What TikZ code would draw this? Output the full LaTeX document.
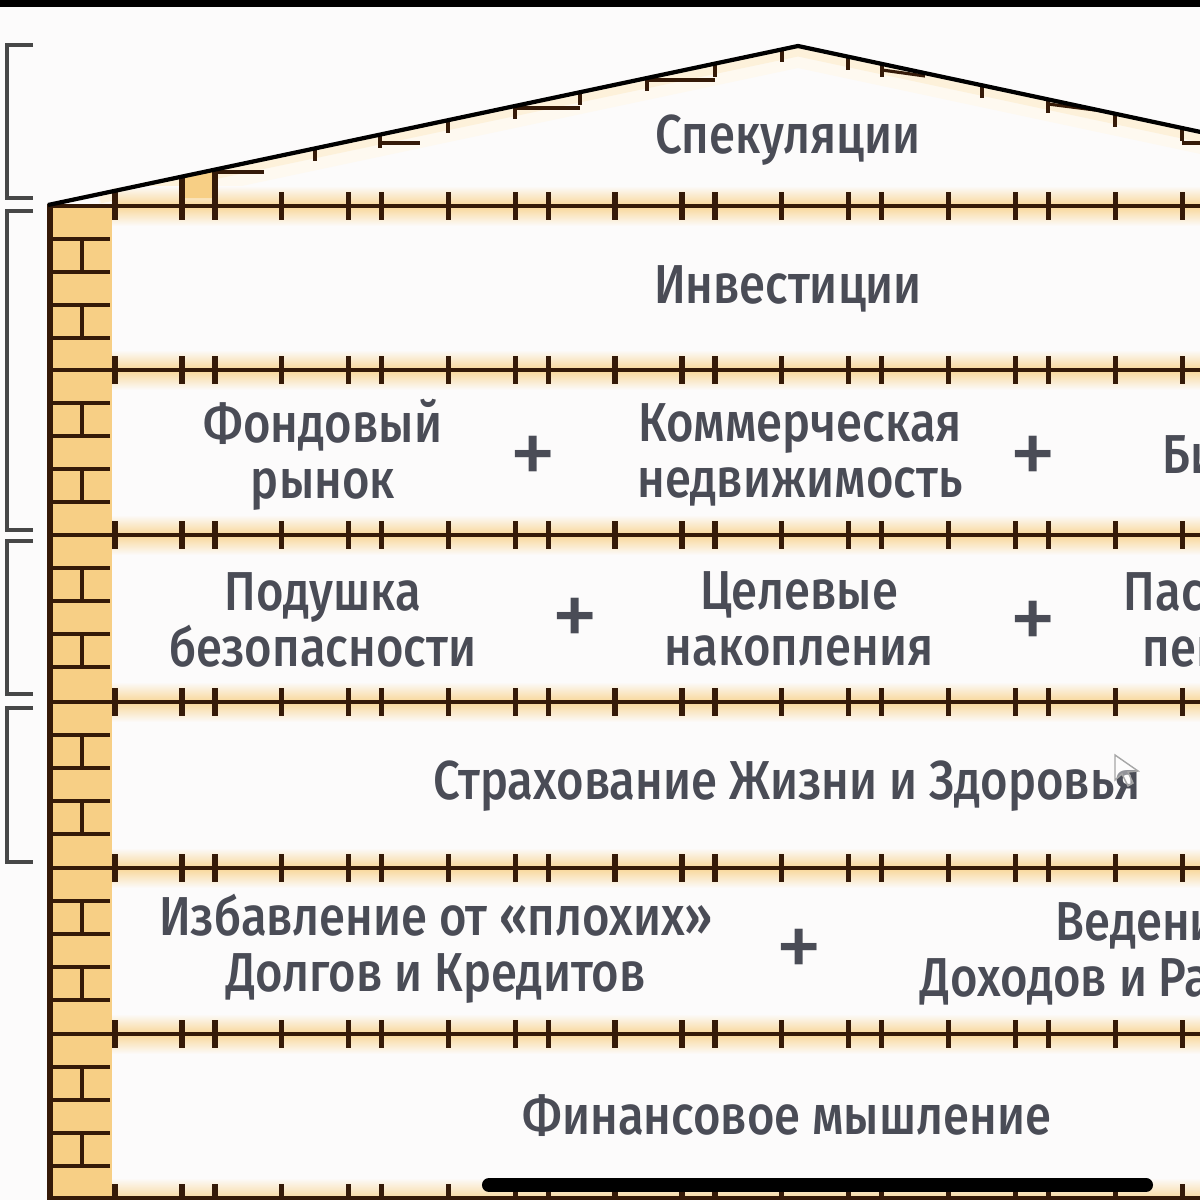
\documentclass[tikz,border=0pt]{standalone}
\usepackage{fontspec}
\setmainfont[FakeStretch=0.86]{Fira Sans Medium}
\newfontfamily\plusfont{Fira Sans}
\definecolor{brick}{HTML}{F7CF85}
\definecolor{beamline}{HTML}{351A08}
\definecolor{inktext}{HTML}{4A4C56}
\definecolor{paper}{HTML}{FCFBFB}
\tikzset{
  label/.style={font=\fontsize{15.6pt}{15.8pt}\selectfont, text=inktext, align=center, inner sep=0pt},
  plus/.style={font=\plusfont\fontsize{27pt}{27pt}\selectfont, text=inktext, inner sep=0pt},
  beam/.style={draw=beamline, line width=1.4pt},
  peg/.style={draw=beamline, line width=1.5pt},
  mortar/.style={draw=beamline, line width=1.1pt},
  rafter/.style={draw=beamline, line width=1.3pt},
  bracketline/.style={draw=black!72, line width=1.1pt},
}
\begin{document}
\begin{tikzpicture}[x=0.01cm,y=-0.01cm]
  \useasboundingbox (0,0) rectangle (1200,1200);
  \clip (0,0) rectangle (1200,1200);
  \fill[paper] (0,0) rectangle (1200,1200);
  \fill[black] (0,0) rectangle (1200,7);
  % roof glow
  \draw[brick!12,line width=5pt] (100,207) -- (798,59) -- (1210,147);
  \draw[brick!30,line width=2.5pt] (100,199) -- (798,52) -- (1210,140);
  % wall
  \fill[brick] (48,206) rectangle (112,1200);
  \draw[mortar,line width=1.5pt] (50,204) -- (50,1200);
  \foreach \f in {206,370,535,702,868,1034}{
    \fill[top color=paper,bottom color=brick!85] (112,\f-20) rectangle (1200,\f);
    \fill[top color=brick!85,bottom color=paper] (112,\f) rectangle (1200,\f+20);
    \draw[beam] (50,\f) -- (1200,\f);
    \foreach \d in {33,66,99,132}
      \draw[mortar] (50,\f+\d) -- (110,\f+\d);
    \draw[mortar] (82,\f+33) -- (82,\f+66);
    \draw[mortar] (82,\f+99) -- (82,\f+132);
  }
  \fill[top color=paper,bottom color=brick!85] (112,1178) rectangle (1200,1200);
  \draw[beam] (50,1198) -- (1200,1198);
  % pegs
  \foreach \f in {206,370,535,702,868,1034,1198}
    \foreach \k in {0,...,7}{
      \draw[peg] (115+166.7*\k,\f-14) -- (115+166.7*\k,\f+14);
      \draw[peg] (182+166.7*\k,\f-14) -- (182+166.7*\k,\f+14);
      \draw[peg] (215+166.7*\k,\f-14) -- (215+166.7*\k,\f+14);
    }
  % roof
  \fill[brick] (182,178) -- (215,171) -- (215,198) -- (182,198) -- cycle;
  \draw[peg] (182,178) -- (182,206);
  \draw[peg] (215,171) -- (215,206);
  \foreach \x in {115,315,380,448,515,580,647,715,782}
    \draw[rafter] (\x,{205-0.212*(\x-48)}) -- ++(0,13);
  \foreach \x in {848,882,982,1048,1115,1182}
    \draw[rafter] (\x,{46+0.214*(\x-798)}) -- ++(0,13);
  \draw[rafter,line width=0.9pt] (215,172) -- (264,172);
  \draw[rafter,line width=0.9pt] (380,143) -- (420,143);
  \draw[rafter,line width=0.9pt] (515,108) -- (580,108);
  \draw[rafter,line width=0.9pt] (647,80) -- (715,80);
  \draw[rafter,line width=0.9pt] (882,70) -- (925,76);
  \draw[rafter,line width=0.9pt] (1048,104) -- (1095,110);
  \draw[rafter,line width=0.9pt] (1182,143) -- (1200,143);
  \draw[black,line width=1.2pt,line join=round] (48,205) -- (798,46) -- (1210,134);
  % brackets
  \draw[bracketline] (33,45) -- (7,45) -- (7,198) -- (33,198);
  \draw[bracketline] (33,211) -- (7,211) -- (7,530) -- (33,530);
  \draw[bracketline] (33,541) -- (7,541) -- (7,694) -- (33,694);
  \draw[bracketline] (33,708) -- (7,708) -- (7,862) -- (33,862);
  % floors
  \node[label] (speculation) at (788,140) {Спекуляции};
  \node[label] (investments) at (788,289) {Инвестиции};
  \node[label] (stocks) at (323,455) {Фондовый\\рынок};
  \node[plus] (plusa) at (533,461) {+};
  \node[label] (realty) at (800,455) {Коммерческая\\недвижимость};
  \node[plus] (plusb) at (1033,461) {+};
  \node[label,anchor=west] (business) at (1162,455) {Бизнес};
  \node[label] (cushion) at (323,620) {Подушка\\безопасности};
  \node[plus] (plusc) at (575,623) {+};
  \node[label] (savings) at (799,619) {Целевые\\накопления};
  \node[plus] (plusd) at (1033,626) {+};
  \node[label,anchor=west,align=left] (pension) at (1123,620) {Пассивная\\\hspace*{0.19cm}пенсия};
  \node[label] (insurance) at (787,786) {Страхование Жизни и Здоровья};
  \node[label] (debts) at (436,949) {Избавление от «плохих»\\Долгов и Кредитов};
  \node[plus] (pluse) at (799,954) {+};
  \node[label,anchor=west,align=left] (budget) at (920,954) {\hspace*{1.35cm}Ведение\\Доходов и Расходов};
  \node[label] (mindset) at (787,1116) {Финансовое мышление};
  \draw[black,line width=4pt,line cap=round] (489,1185) -- (1146,1185);
  % pointer over the last word
  \draw[black!35,line width=0.4pt,fill=white,fill opacity=0.4] (1115,755) -- (1115,780) -- (1122,774) -- (1128,786) -- (1133,783) -- (1128,772) -- (1138,771) -- cycle;
\end{tikzpicture}
\end{document}
